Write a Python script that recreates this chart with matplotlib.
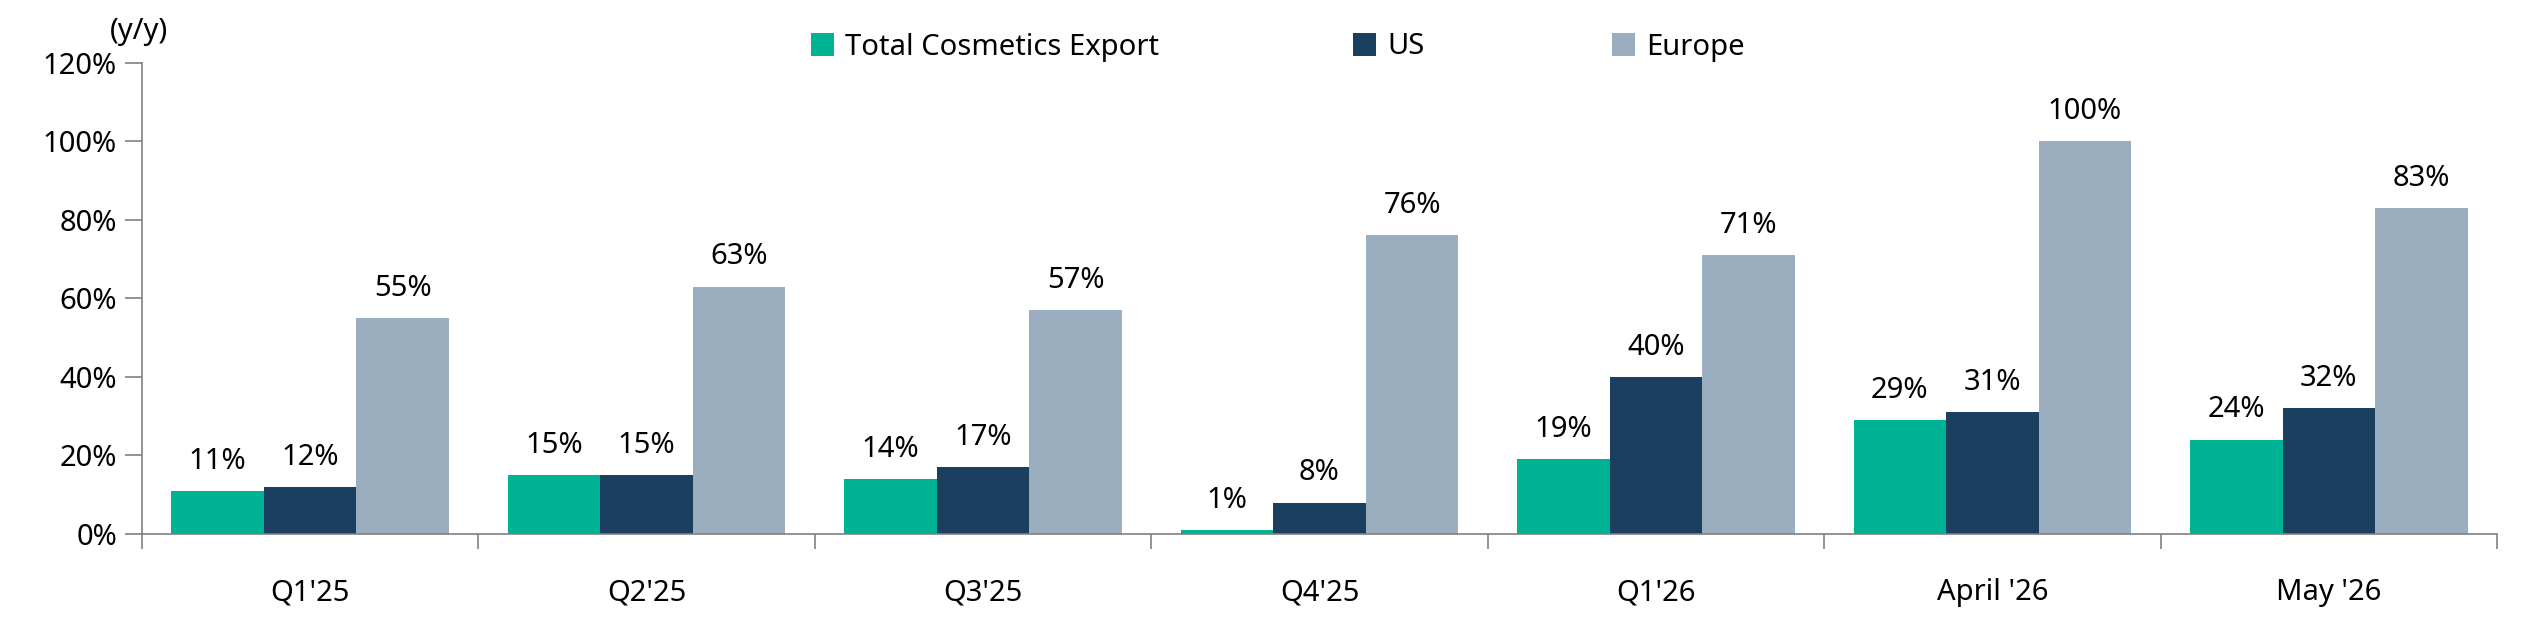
import matplotlib
matplotlib.use("Agg")
import matplotlib.pyplot as plt
import numpy as np
from matplotlib.patches import Patch

plt.rcParams['font.family'] = ['Noto Sans', 'DejaVu Sans']

categories = ["Q1'25", "Q2'25", "Q3'25", "Q4'25", "Q1'26", "April '26", "May '26"]
total = [11, 15, 14, 1, 19, 29, 24]
us = [12, 15, 17, 8, 40, 31, 32]
europe = [55, 63, 57, 76, 71, 100, 83]
series_names = ["Total Cosmetics Export", "US", "Europe"]
colors = ["#00B294", "#1A3F5F", "#9BAEC0"]
axis_color = "#808080"
FS = 21

fig = plt.figure(figsize=(25.39, 6.21), dpi=100)
ax = fig.add_axes([142 / 2539, 1 - 534 / 621, (2497 - 142) / 2539, (534 - 62.6) / 621])

x = np.arange(len(categories))
w = 0.275
series = [total, us, europe]
for i, (vals, c) in enumerate(zip(series, colors)):
    pos = x + (i - 1) * w
    ax.bar(pos, vals, width=w, color=c, zorder=2)
    for p, v in zip(pos, vals):
        ax.annotate(f"{v}%", (p, v), xytext=(0, 11), textcoords="offset points",
                    ha="center", va="bottom", fontsize=FS, color="black")

ax.set_xlim(-0.5, len(categories) - 0.5)
ax.set_ylim(0, 120)
ax.set_yticks(range(0, 121, 20))
ax.set_yticklabels([f"{t}%" for t in range(0, 121, 20)], fontsize=FS)
ax.set_xticks(np.arange(-0.5, len(categories), 1.0))
ax.set_xticklabels([])
ax.set_xticks(x, minor=True)
ax.set_xticklabels(categories, minor=True, fontsize=FS)
ax.tick_params(axis='x', which='minor', length=0, pad=32)
ax.tick_params(axis='x', which='major', length=11, width=1.2, color=axis_color)
ax.tick_params(axis='y', length=12, width=1.2, color=axis_color, pad=6)

for s in ['top', 'right']:
    ax.spines[s].set_visible(False)
for s in ['left', 'bottom']:
    ax.spines[s].set_color(axis_color)
    ax.spines[s].set_linewidth(1.2)

fig.text(110 / 2539, 1 - 32 / 621, "(y/y)", fontsize=FS, ha="left", va="center")

legend_x = [811, 1353, 1612]
for name, c, lx in zip(series_names, colors, legend_x):
    fig.legend([Patch(facecolor=c, edgecolor='none')], [name], loc="center left",
               bbox_to_anchor=(lx / 2539, 1 - 47 / 621), frameon=False, fontsize=FS,
               handlelength=0.8, handleheight=0.82, handletextpad=0.38,
               borderaxespad=0, borderpad=0)

fig.savefig("out.png", dpi=100)
